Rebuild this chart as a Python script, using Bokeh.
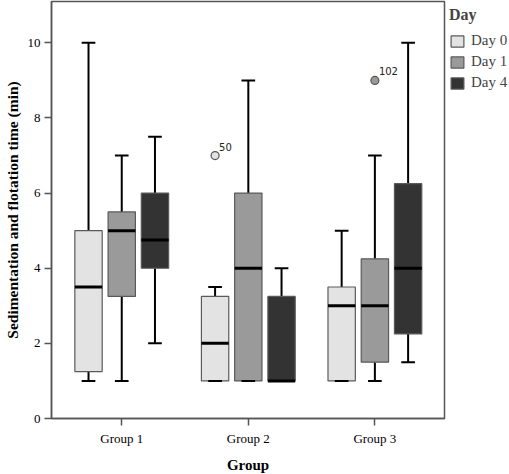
from bokeh.plotting import figure
from bokeh.models import ColumnDataSource, Legend, LegendItem, FixedTicker, Range1d
from bokeh.embed import file_html
from bokeh.resources import INLINE
from bokeh.core.properties import value

groups = ["Group 1", "Group 2", "Group 3"]
days = ["Day 0", "Day 1", "Day 4"]
colors = ["#e3e3e3", "#9a9a9a", "#333333"]

# five-number summaries per day, listed for Group 1, Group 2, Group 3
lower = {"Day 0": [1, 1, 1], "Day 1": [1, 1, 1], "Day 4": [2, 1, 1.5]}
q1 = {"Day 0": [1.25, 1, 1], "Day 1": [3.25, 1, 1.5], "Day 4": [4, 1, 2.25]}
median = {"Day 0": [3.5, 2, 3], "Day 1": [5, 4, 3], "Day 4": [4.75, 1, 4]}
q3 = {"Day 0": [5, 3.25, 3.5], "Day 1": [5.5, 6, 4.25], "Day 4": [6, 3.25, 6.25]}
upper = {"Day 0": [10, 3.5, 5], "Day 1": [7, 9, 7], "Day 4": [7.5, 4, 10]}

outlier_group = ["Group 2", "Group 3"]
outlier_day = ["Day 0", "Day 1"]
outlier_value = [7, 9]
outlier_label = ["50", "102"]

yticks = [0, 2, 4, 6, 8, 10]

SERIF = "Liberation Serif"
offsets = {"Day 0": -0.2625, "Day 1": 0.0, "Day 4": 0.2625}
box_w = 0.216
cap_w = 0.108

p = figure(frame_width=393, frame_height=417, output_backend="svg", toolbar_location=None,
           x_range=Range1d(0.445, 3.55), y_range=Range1d(0, 11.1),
           min_border_left=30, min_border_top=1, min_border_bottom=30, min_border_right=0)

p.xgrid.visible = False
p.ygrid.visible = False
p.outline_line_color = "#555555"
p.outline_line_width = 1.5
p.background_fill_color = "white"
p.border_fill_color = "white"

box_renderers = []
for d, c in zip(days, colors):
    xs = [i + 1 + offsets[d] for i in range(len(groups))]
    src = ColumnDataSource(dict(
        x=xs,
        left=[x - box_w / 2 for x in xs], right=[x + box_w / 2 for x in xs],
        cl=[x - cap_w / 2 for x in xs], cr=[x + cap_w / 2 for x in xs],
        lower=lower[d], q1=q1[d], med=median[d], q3=q3[d], upper=upper[d]))
    p.segment(x0="x", y0="q3", x1="x", y1="upper", source=src, line_color="black", line_width=2)
    p.segment(x0="x", y0="lower", x1="x", y1="q1", source=src, line_color="black", line_width=2)
    r = p.quad(left="left", right="right", bottom="q1", top="q3", source=src,
               fill_color=c, line_color="#5a5a5a", line_width=1.2)
    box_renderers.append(r)
    p.segment(x0="left", y0="med", x1="right", y1="med", source=src, line_color="black", line_width=3)
    p.segment(x0="cl", y0="upper", x1="cr", y1="upper", source=src, line_color="black", line_width=2)
    p.segment(x0="cl", y0="lower", x1="cr", y1="lower", source=src, line_color="black", line_width=2)

ox = [groups.index(g) + 1 + offsets[d] for g, d in zip(outlier_group, outlier_day)]
ofill = [colors[days.index(d)] for d in outlier_day]
osrc = ColumnDataSource(dict(x=ox, y=outlier_value, fill=ofill, label=outlier_label))
p.scatter(x="x", y="y", source=osrc, size=8, fill_color="fill", line_color="#555555", line_width=1.2)
p.text(x="x", y="y", text="label", source=osrc, x_offset=4, y_offset=-5,
       text_font=value("DejaVu Sans"), text_font_size="10px", text_color="#222222",
       text_baseline="bottom", text_align="left")

# axes
p.xaxis.ticker = FixedTicker(ticks=[1, 2, 3])
p.xaxis.major_label_overrides = {1: "Group 1", 2: "Group 2", 3: "Group 3"}
p.yaxis.ticker = FixedTicker(ticks=yticks)
for ax in (p.xaxis[0], p.yaxis[0]):
    ax.minor_tick_line_color = None
    ax.major_tick_in = 0
    ax.major_tick_out = 7
    ax.major_tick_line_color = "#555555"
    ax.major_tick_line_width = 1.5
    ax.axis_line_color = "#555555"
    ax.axis_line_width = 1.5
    ax.major_label_text_font = SERIF
    ax.major_label_text_font_size = "13px"
    ax.major_label_text_color = "black"
    ax.axis_label_text_font = SERIF
    ax.axis_label_text_font_style = "bold"
    ax.axis_label_text_color = "black"
p.xaxis.axis_label = "Group"
p.xaxis.axis_label_text_font_size = "15px"
p.xaxis.axis_label_standoff = 8
p.xaxis.major_label_standoff = 5
p.yaxis.axis_label = "Sedimentation and flotation time (min)"
p.yaxis.axis_label_text_font_size = "15.5px"
p.yaxis.axis_label_standoff = 4
p.yaxis.major_label_standoff = 4

legend = Legend(items=[LegendItem(label=d, renderers=[r]) for d, r in zip(days, box_renderers)],
                title="Day", location="top_left")
legend.title_text_font = SERIF
legend.title_text_font_style = "bold"
legend.title_text_font_size = "16px"
legend.label_text_font = SERIF
legend.label_text_font_size = "15px"
legend.glyph_width = 16
legend.glyph_height = 14
legend.label_height = 14
legend.spacing = 4
legend.label_standoff = 6
legend.padding = 2
legend.margin = 5
legend.border_line_color = None
legend.background_fill_color = "white"
legend.title_standoff = 8
p.add_layout(legend, "right")

open("out.html", "w").write(file_html(p, INLINE))
